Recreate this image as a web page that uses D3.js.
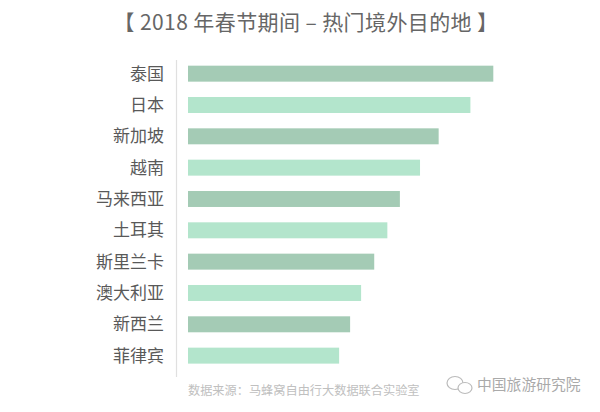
<!DOCTYPE html>
<html>
<head>
<meta charset="utf-8">
<script src="https://cdn.jsdelivr.net/npm/d3@7"></script>
<style>
  body { margin: 0; background: #fff; }
  text { font-family: "Noto Sans CJK SC", "Noto Sans", sans-serif; }
</style>
</head>
<body>
<script>
var w = 600;
var h = 412;

// destinations, top to bottom
var destinations = ["泰国", "日本", "新加坡", "越南", "马来西亚", "土耳其", "斯里兰卡", "澳大利亚", "新西兰", "菲律宾"];
// relative popularity (泰国 = 100)
var popularity = [100, 92.5, 82.1, 76.0, 69.4, 65.3, 61.0, 56.7, 53.1, 49.5];
var barColors = ["#a4cbb5", "#b3e5cc"];

var title = "【 2018 年春节期间 – 热门境外目的地 】";
var source = "数据来源：马蜂窝自由行大数据联合实验室";
var watermark = "中国旅游研究院";

var svg = d3.select("body").append("svg")
    .attr("width", w)
    .attr("height", h);

var x = d3.scaleLinear()
    .domain([0, d3.max(popularity)])
    .range([188, 493.3]);

var y = d3.scaleBand()
    .domain(destinations)
    .range([58, 371.3])
    .paddingInner(0.49)
    .paddingOuter(0.245);

// title
svg.append("text")
    .attr("x", 306)
    .attr("y", 30)
    .attr("text-anchor", "middle")
    .attr("font-size", 21)
    .attr("letter-spacing", 0.4)
    .attr("fill", "#666")
    .text(title);

// axis line
svg.append("line")
    .attr("x1", 176.5).attr("x2", 176.5)
    .attr("y1", 60).attr("y2", 377)
    .attr("stroke", "#e0e0e0")
    .attr("stroke-width", 1.2);

svg.selectAll(".bar")
    .data(destinations)
    .enter().append("rect")
    .attr("class", "bar")
    .attr("x", x(0))
    .attr("y", function(d) { return y(d); })
    .attr("height", y.bandwidth())
    .attr("width", function(d, i) { return x(popularity[i]) - x(0); })
    .attr("fill", function(d, i) { return barColors[i % 2]; });

svg.selectAll(".label")
    .data(destinations)
    .enter().append("text")
    .attr("class", "label")
    .attr("x", 164)
    .attr("y", function(d) { return y(d) + y.bandwidth() / 2; })
    .attr("dy", "0.36em")
    .attr("text-anchor", "end")
    .attr("font-size", 17)
    .attr("fill", "#595959")
    .text(function(d) { return d; });

// source note
svg.append("text")
    .attr("x", 188)
    .attr("y", 391)
    .attr("dy", "0.35em")
    .attr("font-size", 12.2)
    .attr("fill", "#c0c0c0")
    .text(source);

// watermark with a rough chat-bubble icon
var wm = svg.append("g").attr("transform", "translate(0,385)");
wm.append("ellipse")
    .attr("cx", 455).attr("cy", -2).attr("rx", 8).attr("ry", 6.5)
    .attr("fill", "none").attr("stroke", "#bbb").attr("stroke-width", 1.2);
wm.append("ellipse")
    .attr("cx", 465).attr("cy", 3).attr("rx", 7).attr("ry", 5.5)
    .attr("fill", "#fff").attr("stroke", "#bbb").attr("stroke-width", 1.2);
wm.append("text")
    .attr("x", 477)
    .attr("y", 0)
    .attr("dy", "0.36em")
    .attr("font-size", 14.8)
    .attr("fill", "#aaa")
    .text(watermark);
</script>
</body>
</html>
